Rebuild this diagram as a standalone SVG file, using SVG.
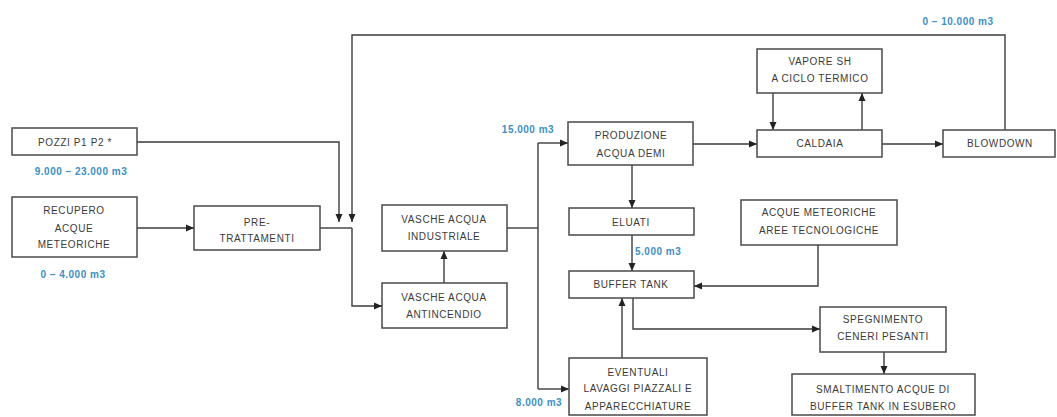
<svg xmlns="http://www.w3.org/2000/svg" width="1057" height="417" viewBox="0 0 1057 417">
<style>
.box{fill:#fff;stroke:#4a4a4a;stroke-width:1.5}
.t{font-family:"Liberation Sans",Arial,sans-serif;font-size:10px;fill:#3a3a3a;text-anchor:middle;letter-spacing:0.6px}
.q{font-family:"Liberation Sans",Arial,sans-serif;font-size:10px;font-weight:bold;fill:#3d8fc6;letter-spacing:0.5px}
.c{fill:none;stroke:#3c3c3c;stroke-width:1.4}
</style>
<defs>
<marker id="ah" markerUnits="userSpaceOnUse" markerWidth="8" markerHeight="8" refX="8" refY="4" orient="auto">
<path d="M0,0.5 L8,4 L0,7.5 z" fill="#222"/>
</marker>
</defs>
<rect width="1057" height="417" fill="#fff"/>
<g id="connectors">
<path class="c" d="M137,142 H339 V222" marker-end="url(#ah)"/>
<path class="c" d="M1005,130 V35 H352 V222" marker-end="url(#ah)"/>
<path class="c" d="M137,228 H194" marker-end="url(#ah)"/>
<path class="c" d="M320,228 H352"/>
<path class="c" d="M352,228 V306 H382" marker-end="url(#ah)"/>
<path class="c" d="M444,283 V251" marker-end="url(#ah)"/>
<path class="c" d="M507,228 H538"/>
<path class="c" d="M538,143 V389"/>
<path class="c" d="M538,143 H568" marker-end="url(#ah)"/>
<path class="c" d="M538,389 H569" marker-end="url(#ah)"/>
<path class="c" d="M632,165 V208" marker-end="url(#ah)"/>
<path class="c" d="M632,235 V271" marker-end="url(#ah)"/>
<path class="c" d="M622,358 V298" marker-end="url(#ah)"/>
<path class="c" d="M818,245 V286 H694" marker-end="url(#ah)"/>
<path class="c" d="M633,298 V329 H820" marker-end="url(#ah)"/>
<path class="c" d="M884,352 V374" marker-end="url(#ah)"/>
<path class="c" d="M693,144 H757" marker-end="url(#ah)"/>
<path class="c" d="M773,93 V130" marker-end="url(#ah)"/>
<path class="c" d="M862,130 V93" marker-end="url(#ah)"/>
<path class="c" d="M882,144 H943" marker-end="url(#ah)"/>
</g>
<g id="pozzi">
<rect class="box" x="12" y="128" width="125" height="27"/>
<text class="t" x="75" y="146">POZZI P1 P2 *</text>
<text class="q" x="81" y="175" text-anchor="middle">9.000 – 23.000 m3</text>
</g>
<g id="recupero">
<rect class="box" x="12" y="197" width="125" height="60"/>
<text class="t" x="74" y="214">RECUPERO</text>
<text class="t" x="74" y="232">ACQUE</text>
<text class="t" x="74" y="248">METEORICHE</text>
<text class="q" x="73" y="278" text-anchor="middle">0 – 4.000 m3</text>
</g>
<g id="pretrattamenti">
<rect class="box" x="194" y="206" width="126" height="44"/>
<text class="t" x="257" y="226">PRE-</text>
<text class="t" x="257" y="242">TRATTAMENTI</text>
</g>
<g id="vasche-industriale">
<rect class="box" x="382" y="205" width="125" height="46"/>
<text class="t" x="444" y="223">VASCHE ACQUA</text>
<text class="t" x="444" y="240">INDUSTRIALE</text>
</g>
<g id="vasche-antincendio">
<rect class="box" x="382" y="283" width="125" height="45"/>
<text class="t" x="444" y="301">VASCHE ACQUA</text>
<text class="t" x="444" y="318">ANTINCENDIO</text>
</g>
<g id="produzione">
<rect class="box" x="568" y="122" width="125" height="43"/>
<text class="t" x="631" y="139">PRODUZIONE</text>
<text class="t" x="631" y="157">ACQUA DEMI</text>
<text class="q" x="528" y="133" text-anchor="middle">15.000 m3</text>
</g>
<g id="eluati">
<rect class="box" x="569" y="208" width="125" height="27"/>
<text class="t" x="631" y="226">ELUATI</text>
<text class="q" x="635" y="255">5.000 m3</text>
</g>
<g id="buffer">
<rect class="box" x="569" y="271" width="125" height="27"/>
<text class="t" x="631" y="288">BUFFER TANK</text>
</g>
<g id="eventuali">
<rect class="box" x="569" y="358" width="138" height="57"/>
<text class="t" x="638" y="376">EVENTUALI</text>
<text class="t" x="638" y="392">LAVAGGI PIAZZALI E</text>
<text class="t" x="638" y="410">APPARECCHIATURE</text>
<text class="q" x="539" y="406" text-anchor="middle">8.000 m3</text>
</g>
<g id="acque-meteoriche">
<rect class="box" x="741" y="200" width="156" height="45"/>
<text class="t" x="819" y="216">ACQUE METEORICHE</text>
<text class="t" x="819" y="234">AREE TECNOLOGICHE</text>
</g>
<g id="spegnimento">
<rect class="box" x="820" y="307" width="126" height="45"/>
<text class="t" x="883" y="323">SPEGNIMENTO</text>
<text class="t" x="883" y="340">CENERI PESANTI</text>
</g>
<g id="smaltimento">
<rect class="box" x="792" y="374" width="183" height="41"/>
<text class="t" x="883" y="393">SMALTIMENTO ACQUE DI</text>
<text class="t" x="883" y="410">BUFFER TANK IN ESUBERO</text>
</g>
<g id="vapore">
<rect class="box" x="757" y="49" width="125" height="44"/>
<text class="t" x="820" y="65">VAPORE SH</text>
<text class="t" x="820" y="82">A CICLO TERMICO</text>
</g>
<g id="caldaia">
<rect class="box" x="757" y="130" width="125" height="27"/>
<text class="t" x="820" y="147">CALDAIA</text>
</g>
<g id="blowdown">
<rect class="box" x="943" y="130" width="112" height="27"/>
<text class="t" x="1000" y="147">BLOWDOWN</text>
<text class="q" x="958" y="25" text-anchor="middle">0 – 10.000 m3</text>
</g>
</svg>
